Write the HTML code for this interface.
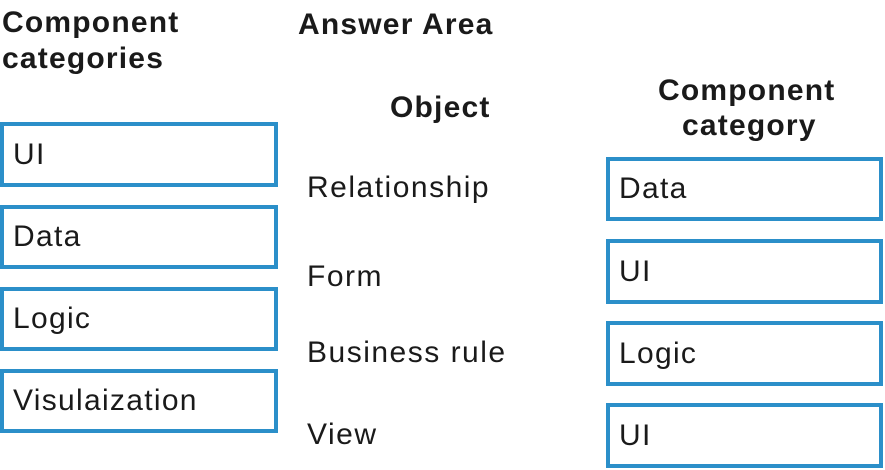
<!DOCTYPE html>
<html><head><style>
body{margin:0;width:885px;height:470px;background:#fff;position:relative;overflow:hidden;font-family:"Liberation Sans",sans-serif;color:#1a1a1a}
.t{position:absolute;white-space:nowrap;line-height:1}
.h{font-weight:bold;font-size:30px;letter-spacing:1.2px}
.b{position:absolute;box-sizing:border-box;border:4px solid #2b8fc9;background:#fff;font-size:30px;letter-spacing:1.3px;padding-left:9px;display:flex;align-items:center}
.o{position:absolute;font-size:30px;letter-spacing:1.5px;line-height:1;white-space:nowrap}
</style></head><body>
<div class="t h" style="left:2px;top:8px">Component</div>
<div class="t h" style="left:2px;top:44px">categories</div>
<div class="t h" style="left:298px;top:10px">Answer Area</div>
<div class="t h" style="left:390px;top:93px">Object</div>
<div class="t h" style="left:658px;top:76px">Component</div>
<div class="t h" style="left:682px;top:111px">category</div>

<div class="b" style="left:0;top:122px;width:278px;height:65px">UI</div>
<div class="b" style="left:0;top:205px;width:278px;height:64px">Data</div>
<div class="b" style="left:0;top:287px;width:278px;height:64px">Logic</div>
<div class="b" style="left:0;top:369px;width:278px;height:64px">Visulaization</div>

<div class="o" style="left:307px;top:173px">Relationship</div>
<div class="o" style="left:307px;top:262px">Form</div>
<div class="o" style="left:307px;top:338px">Business rule</div>
<div class="o" style="left:307px;top:420px">View</div>

<div class="b" style="left:606px;top:157px;width:277px;height:64px">Data</div>
<div class="b" style="left:606px;top:239px;width:277px;height:65px">UI</div>
<div class="b" style="left:606px;top:321px;width:277px;height:65px">Logic</div>
<div class="b" style="left:606px;top:403px;width:277px;height:65px">UI</div>
</body></html>
